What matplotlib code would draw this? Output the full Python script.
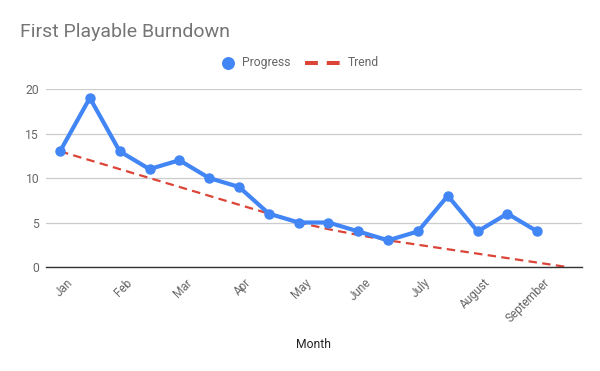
import matplotlib.pyplot as plt
from matplotlib.lines import Line2D
from matplotlib.transforms import ScaledTranslation

# data
progress = [13, 19, 13, 11, 12, 10, 9, 6, 5, 5, 4, 3, 4, 8, 4, 6, 4]
trend = [13, 12, 11, 10, 9, 8, 7, 6, 5, 4.25, 3.6, 3.0, 2.5, 2.0, 1.5, 1.0, 0.5, 0]
months = ["Jan", "", "Feb", "", "Mar", "", "Apr", "", "May", "", "June", "",
          "July", "", "August", "", "September"]

blue = "#4285F4"
red = "#DB4437"
grey = "#757575"

plt.rcParams["font.family"] = ["Roboto", "DejaVu Sans"]

fig = plt.figure(figsize=(6, 3.71), dpi=100)
ax = fig.add_axes([0.0767, 0.2803, 0.8933, 0.4797])

x_prog = list(range(len(progress)))
x_trend = list(range(len(trend)))

ax.plot(x_trend, trend, color=red, linewidth=1.6, linestyle=(0, (3.8, 2.4)), zorder=2)
ax.plot(x_prog, progress, color=blue, linewidth=3, marker="o", markersize=6.5, zorder=3)

ax.set_xlim(-0.47, 17.5)
ax.set_ylim(0, 20)
ax.set_yticks([0, 5, 10, 15, 20])
tick_idx = [i for i, m in enumerate(months) if m]
ax.set_xticks(tick_idx)
ax.set_xticklabels([months[i] for i in tick_idx], rotation=45, ha="right",
                   rotation_mode="anchor")
ax.tick_params(axis="both", length=0, labelcolor="#666666")
ax.tick_params(axis="x", pad=6.5, labelsize=8.5)
ax.tick_params(axis="y", pad=5, labelsize=8.7)
shift = ScaledTranslation(6 / 100, 0, fig.dpi_scale_trans)
for lbl in ax.get_xticklabels():
    lbl.set_transform(lbl.get_transform() + shift)

ax.grid(axis="y", color="#cccccc", linewidth=0.9)
ax.set_axisbelow(True)
for side in ["top", "right", "left"]:
    ax.spines[side].set_visible(False)
ax.spines["bottom"].set_color("#333333")
ax.spines["bottom"].set_linewidth(1)

ax.set_xlabel("Month", fontsize=8.7, color="#222222", va="center")
ax.xaxis.set_label_coords((313.5 - 46) / 536, (267 - 344.5) / 178)

fig.text(20 / 600, 1 - 31.7 / 371, "First Playable Burndown", fontsize=14,
         color=grey, ha="left", va="center")

# legend drawn by hand to match spacing
ly = 1 - 62.7 / 371
fig.add_artist(Line2D([228 / 600], [ly], transform=fig.transFigure, color=blue,
                      marker="o", markersize=8.3, linestyle="none"))
fig.text(242 / 600, ly, "Progress", fontsize=8.7, color="#666666", ha="left", va="center")
fig.add_artist(Line2D([305 / 600, 340 / 600], [ly, ly], transform=fig.transFigure,
                      color=red, linewidth=2.9, linestyle=(0, (3.2, 2.2))))
fig.text(348 / 600, ly, "Trend", fontsize=8.7, color="#666666", ha="left", va="center")

fig.savefig("out.png", dpi=100)
